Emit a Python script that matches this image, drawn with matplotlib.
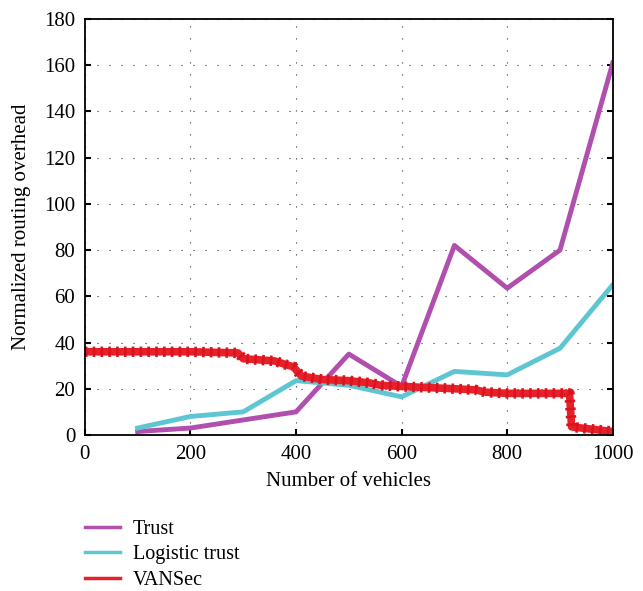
import matplotlib.pyplot as plt
from matplotlib.lines import Line2D

plt.rcParams['font.family'] = ['Liberation Serif', 'DejaVu Serif']

# data
vehicles = [100, 200, 300, 400, 500, 600, 700, 800, 900, 1000]
trust = [1.5, 3, 6.5, 10, 35, 21, 82, 63.5, 80, 161]
logistic = [3, 8, 10, 23.5, 21.5, 16.5, 27.5, 26, 37.5, 65]

vansec_x = [0, 100, 200, 290, 300, 360, 380, 395, 410, 450, 500, 540, 560, 600,
            650, 700, 740, 760, 800, 850, 900, 918, 922, 960, 1000]
vansec_y = [36, 36, 36, 35.5, 33, 32, 30.5, 29.5, 25.5, 24, 23.5, 22.5, 21.5, 21,
            20.5, 20, 19.5, 18.5, 18, 18, 18, 18, 3.5, 2.5, 1.5]

fig = plt.figure(figsize=(6.43, 5.91), dpi=100)
ax = fig.add_axes([0.132, 0.264, 0.821, 0.704])

ax.plot(vehicles, trust, color='#b04fae', lw=3.5, label='Trust')
ax.plot(vehicles, logistic, color='#5ec6d2', lw=3.5, label='Logistic trust')
ax.plot(vansec_x, vansec_y, color='#e8202a', lw=5.5, label='VANSec')
# fuzzy dotted edge on the VANSec line
ax.plot(vansec_x, vansec_y, color='#d9141c', lw=7.5, ls=(0, (0.25, 0.5)))

ax.set_xlim(0, 1000)
ax.set_ylim(0, 180)
ax.set_xticks(range(0, 1001, 200))
ax.set_yticks(range(0, 181, 20))
ax.tick_params(direction='in', labelsize=15, length=4, width=1.5, pad=7,
               right=True, top=False)
ax.grid(True, color='#333333', ls=(0, (1, 9.8)), lw=0.8)
for s in ax.spines.values():
    s.set_linewidth(1.3)

ax.set_xlabel('Number of vehicles', fontsize=15, labelpad=6)
ax.set_ylabel('Normalized routing overhead', fontsize=15, labelpad=9)

handles, labels = ax.get_legend_handles_labels()
hs = [Line2D([], [], color=h.get_color(), lw=2.5) for h in handles]
fig.legend(hs, labels, loc='upper left', bbox_to_anchor=(0.132, 0.121),
           frameon=False, fontsize=14.5, handlelength=1.75, labelspacing=0.33,
           handletextpad=0.64, borderaxespad=0, borderpad=0)

fig.savefig('out.png', dpi=100)
